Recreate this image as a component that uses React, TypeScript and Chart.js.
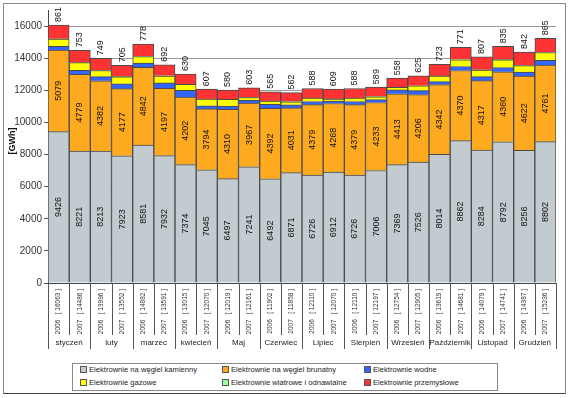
import React, { useEffect, useRef } from "react";
import { Chart, registerables } from "chart.js";

Chart.register(...registerables);

const FONT = '"Liberation Sans", Arial, sans-serif';

const months = ["styczeń", "luty", "marzec", "kwiecień", "Maj", "Czerwiec", "Lipiec", "Sierpień", "Wrzesień", "Październik", "Listopad", "Grudzień"];
const years = ["2006", "2007"];
const totals = [16063, 14486, 13996, 13552, 14882, 13591, 13015, 12070, 12019, 12161, 11902, 11858, 12110, 12070, 12110, 12197, 12754, 12905, 13619, 14681, 14079, 14741, 14387, 15236];

const hardCoal = [9426, 8221, 8213, 7923, 8581, 7932, 7374, 7045, 6497, 7241, 6492, 6871, 6726, 6912, 6726, 7006, 7369, 7526, 8014, 8862, 8284, 8792, 8256, 8802];
const brownCoal = [5079, 4779, 4382, 4177, 4842, 4197, 4202, 3794, 4310, 3967, 4392, 4031, 4379, 4268, 4379, 4233, 4413, 4206, 4342, 4370, 4317, 4360, 4622, 4761];
const hydro = [240, 250, 260, 310, 270, 330, 420, 200, 210, 160, 240, 200, 200, 150, 200, 180, 240, 250, 180, 250, 250, 270, 250, 300];
const gas = [440, 470, 380, 425, 400, 430, 380, 415, 414, 182, 205, 186, 209, 123, 209, 181, 166, 290, 350, 418, 410, 472, 405, 490];
const wind = [17, 13, 12, 12, 11, 10, 9, 9, 8, 8, 8, 8, 8, 8, 8, 8, 8, 8, 10, 10, 11, 12, 12, 18];
const industrial = [861, 753, 749, 705, 778, 692, 630, 607, 580, 603, 565, 562, 588, 609, 588, 589, 558, 625, 723, 771, 807, 835, 842, 865];

const seriesNames = [
  "Elektrownie na węgiel kamienny",
  "Elektrownie na węgiel brunatny",
  "Elektrownie wodne",
  "Elektrownie gazowe",
  "Elektrownie wiatrowe i odnawialne",
  "Elektrownie przemysłowe",
];
const seriesColors = ["#C2CBCF", "#FDAA20", "#3366FF", "#FFFF00", "#99FF99", "#FF3333"];

const yTicks = [0, 2000, 4000, 6000, 8000, 10000, 12000, 14000, 16000];

export default function App() {
  const canvasRef = useRef<HTMLCanvasElement | null>(null);

  useEffect(() => {
    const canvas = canvasRef.current;
    if (!canvas) return;
    const labels = totals.map((t, i) => `${years[i % 2]}   [ ${t} ]`);
    const seriesData = [hardCoal, brownCoal, hydro, gas, wind, industrial];

    const decorPlugin = {
      id: "decor",
      afterDatasetsDraw(chart: any) {
        const ctx = chart.ctx as CanvasRenderingContext2D;
        ctx.save();
        ctx.font = `9px ${FONT}`;
        ctx.fillStyle = "#111";
        [0, 1].forEach((di) => {
          const meta = chart.getDatasetMeta(di);
          meta.data.forEach((bar: any, i: number) => {
            const p = bar.getProps(["x", "y", "base"], true);
            const cy = (p.y + p.base) / 2;
            ctx.save();
            ctx.translate(p.x, cy);
            ctx.rotate(-Math.PI / 2);
            ctx.textAlign = "center";
            ctx.textBaseline = "middle";
            ctx.fillText(String(seriesData[di][i]), 0, 0);
            ctx.restore();
          });
        });
        const meta = chart.getDatasetMeta(5);
        meta.data.forEach((bar: any, i: number) => {
          const p = bar.getProps(["x", "y"], true);
          ctx.save();
          ctx.translate(p.x, p.y - 3);
          ctx.rotate(-Math.PI / 2);
          ctx.textAlign = "left";
          ctx.textBaseline = "middle";
          ctx.fillText(String(industrial[i]), 0, 0);
          ctx.restore();
        });
        ctx.restore();
      },
      afterDraw(chart: any) {
        const ctx = chart.ctx as CanvasRenderingContext2D;
        const area = chart.chartArea;
        const xs = chart.scales.x;
        ctx.save();
        const n = totals.length;
        const w = (area.right - area.left) / n;
        ctx.strokeStyle = "#555";
        ctx.lineWidth = 1;
        for (let i = 0; i <= n; i++) {
          const x = Math.round(area.left + i * w) + 0.5;
          const len = i % 2 === 0 ? 66 : 52;
          ctx.beginPath();
          ctx.moveTo(x, area.bottom);
          ctx.lineTo(x, area.bottom + len);
          ctx.stroke();
        }
        ctx.font = `8px ${FONT}`;
        ctx.fillStyle = "#222";
        ctx.textAlign = "center";
        ctx.textBaseline = "middle";
        months.forEach((m, k) => {
          const x = (xs.getPixelForValue(2 * k) + xs.getPixelForValue(2 * k + 1)) / 2;
          ctx.fillText(m, x, area.bottom + 60);
        });
        // y title
        ctx.font = `bold 9px ${FONT}`;
        ctx.fillStyle = "#111";
        ctx.translate(13, 141);
        ctx.rotate(-Math.PI / 2);
        ctx.fillText("[GWh]", 0, 0);
        ctx.restore();
      },
    };

    const chart = new Chart(canvas, {
      type: "bar",
      data: {
        labels,
        datasets: seriesData.map((d, i) => ({
          label: seriesNames[i],
          data: d,
          backgroundColor: seriesColors[i],
          borderColor: "#4a4a4a",
          borderWidth: 1,
          categoryPercentage: 1,
          barPercentage: 1,
        })),
      },
      options: {
        animation: false,
        responsive: false,
        maintainAspectRatio: false,
        layout: { padding: { left: 0, top: 10, right: 14, bottom: 0 } },
        plugins: { legend: { display: false }, tooltip: { enabled: false } },
        scales: {
          x: {
            stacked: true,
            grid: { display: false, drawTicks: false, tickLength: 0 },
            border: { color: "#444" },
            ticks: {
              minRotation: 90,
              maxRotation: 90,
              autoSkip: false,
              padding: 6,
              color: "#333",
              font: { size: 6.5, family: FONT },
            },
            afterFit: (s: any) => {
              s.height = 115;
            },
          },
          y: {
            stacked: true,
            min: 0,
            max: 17000,
            afterBuildTicks: (s: any) => {
              s.ticks = yTicks.map((v) => ({ value: v }));
            },
            grid: { color: "#9a9a9a", tickLength: 4, tickColor: "#555" },
            border: { color: "#444" },
            ticks: {
              padding: 2,
              color: "#333",
              font: { size: 10, family: FONT },
              callback: (v: any) => String(v),
            },
            afterFit: (s: any) => {
              s.width = 48;
            },
          },
        },
      },
      plugins: [decorPlugin],
    } as any);
    return () => chart.destroy();
  }, []);

  const legendItems = [
    { c: 0, x: 7, y: 0 },
    { c: 1, x: 149, y: 0 },
    { c: 2, x: 291, y: 0 },
    { c: 3, x: 7, y: 13 },
    { c: 4, x: 149, y: 13 },
    { c: 5, x: 291, y: 13 },
  ];

  return (
    <div style={{ position: "fixed", left: 0, top: 0, width: 570, height: 398, background: "#fff", fontFamily: FONT }}>
      <canvas ref={canvasRef} width={570} height={398} style={{ display: "block", position: "absolute", left: 0, top: 0 }} />
      <div style={{ position: "absolute", left: 3, top: 3, width: 561, height: 389, border: "1px solid #888", borderBottom: "1px solid #444", pointerEvents: "none" }} />
      <div style={{ position: "absolute", left: 72, top: 363, width: 424, height: 26, border: "1px solid #888", background: "#fff" }}>
        {legendItems.map((it) => (
          <div key={it.c} style={{ position: "absolute", left: it.x, top: it.y, height: 11, lineHeight: "11px", display: "flex", alignItems: "center", fontSize: 7.6, color: "#222", whiteSpace: "nowrap" }}>
            <span style={{ display: "inline-block", width: 5, height: 5, background: seriesColors[it.c], border: "1px solid #555", marginRight: 2 }} />
            <span>{seriesNames[it.c]}</span>
          </div>
        ))}
      </div>
    </div>
  );
}
